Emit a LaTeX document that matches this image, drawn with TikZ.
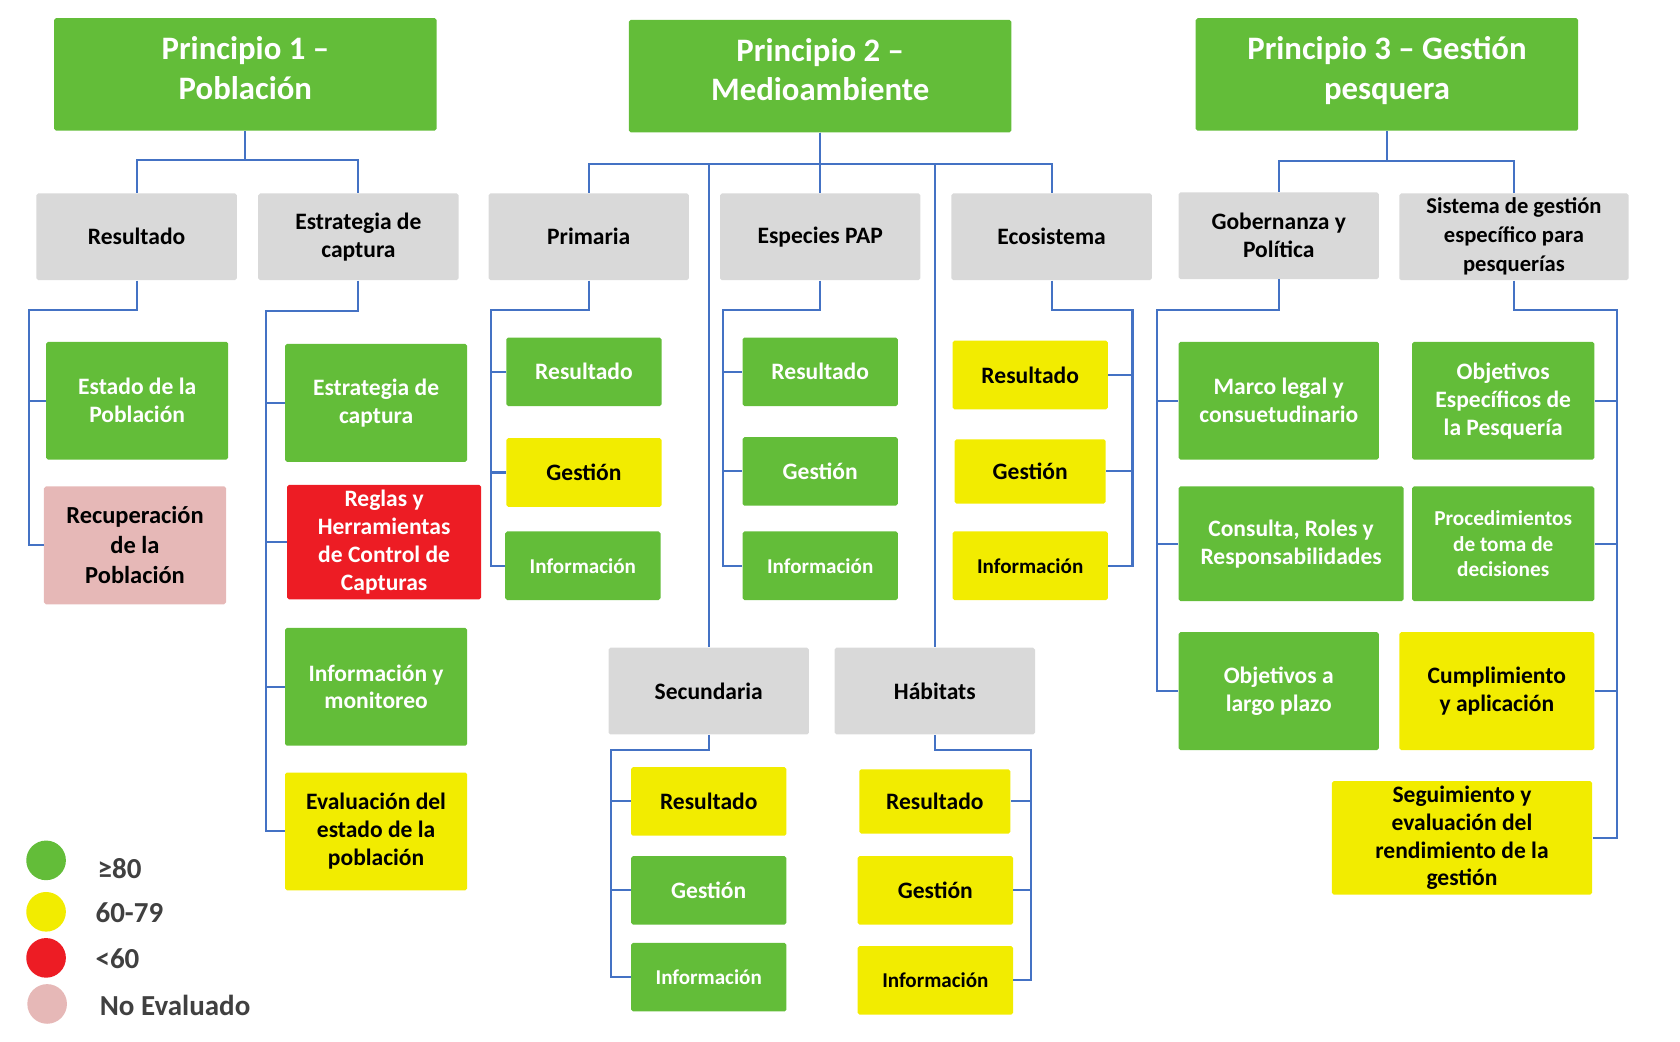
\documentclass[tikz,border=0pt]{standalone}
\usepackage{fontspec}
\setmainfont{Carlito}
\usepackage{tikz}
\usetikzlibrary{positioning}

\definecolor{scgreen}{RGB}{99,189,57}
\definecolor{scyellow}{RGB}{242,236,0}
\definecolor{scred}{RGB}{237,28,36}
\definecolor{scpink}{RGB}{230,184,183}
\definecolor{catgray}{RGB}{217,217,217}
\definecolor{linkblue}{RGB}{68,114,196}
\definecolor{legtext}{RGB}{64,64,64}

\begin{document}
\begin{tikzpicture}[x=0.2mm, y=-0.2mm,
      base/.style={rectangle, rounded corners=1pt, align=center, inner sep=1pt,
                  font=\fontsize{12.5}{14.8}\selectfont\bfseries},
      princ/.style={base, fill=scgreen, text=white, minimum width=71.4mm, minimum height=21mm,
                  font=\fontsize{17.4}{21}\selectfont\bfseries},
      cat/.style={base, fill=catgray, text=black, minimum width=37.4mm, minimum height=16.2mm},
      good/.style={base, fill=scgreen, text=white},
      fair/.style={base, fill=scyellow, text=black},
      poor/.style={base, fill=scred, text=white},
      noeval/.style={base, fill=scpink, text=black, font=\fontsize{13}{16}\selectfont\bfseries},
      big/.style={minimum width=34mm, minimum height=22mm},
      small/.style={minimum width=29mm, minimum height=12.8mm},
      tiny/.style={font=\fontsize{11.2}{13.7}\selectfont\bfseries},
      link/.style={draw=linkblue, line width=1.1pt},
      dot/.style={circle, minimum size=7.4mm, inner sep=0pt},
      leg/.style={anchor=west, text=legtext, font=\fontsize{15.4}{18}\selectfont\bfseries}]

    \useasboundingbox (0,0) rectangle (1568,972);

    % ---- Principles ----
    % (empty last line lifts the title text a little)
    \node[princ] (p1) at (229,69.5) {Principio 1 --\\Población\\[-14pt]\mbox{}};
    \node[princ] (p2) at (765.5,71) {Principio 2 --\\Medioambiente\\[-14pt]\mbox{}};
    \node[princ] (p3) at (1294.5,69.5) {Principio 3 -- Gestión\\pesquera\\[-14pt]\mbox{}};

    % ---- Components ----
    \node[cat] (res) at (127.5,221) {Resultado};
    \node[cat] (est) at (334.5,221) {Estrategia de\\captura};
    \node[cat] (pri) at (549.5,221) {Primaria};
    \node[cat] (pap) at (765.5,221) {Especies PAP};
    \node[cat] (eco) at (981.5,221) {Ecosistema};
    \node[cat] (sec) at (661.5,645) {Secundaria};
    \node[cat] (hab) at (872.5,645) {Hábitats};
    \node[cat] (gob) at (1193.5,220) {Gobernanza y\\Política};
    \node[cat, minimum width=42.8mm, font=\fontsize{12}{15.4}\selectfont\bfseries]
          (sis) at (1413,221) {Sistema de gestión\\específico para\\pesquerías};

    \draw[link] (p1.south) -- ++(0,27) -| (res.north);
    \draw[link] (p1.south) -- ++(0,27) -| (est.north);
    \foreach \c in {pri,pap,eco,sec,hab}
      \draw[link] (p2.south) -- ++(0,29) -| (\c.north);
    \draw[link] (p3.south) -- ++(0,28) -| (gob.north);
    \draw[link] (p3.south) -- ++(0,28) -| (sis.north);

    % ---- P1: Resultado ----
    \node[good, big] (estado) at (128,374) {Estado de la\\Población};
    \node[noeval, big] (recup) at (126,509) {Recuperación\\de la\\Población};
    \coordinate (resbus) at (27,289);
    \draw[link] (res.south) |- (resbus) |- (recup.west);
    \draw[link] (resbus |- estado.west) -- (estado.west);

    % ---- P1: Estrategia de captura ----
    \node[good, big] (estcap) at (351,376) {Estrategia de\\captura};
    \node[poor, minimum width=36.2mm, minimum height=21.4mm] (reglas) at (358.5,506)
          {Reglas y\\Herramientas\\de Control de\\Capturas};
    \node[good, big] (infmon) at (351,641) {Información y\\monitoreo};
    \node[fair, big] (evalu) at (351,776) {Evaluación del\\estado de la\\población};
    \coordinate (estbus) at (248,290);
    \draw[link] (est.south) |- (estbus) |- (evalu.west);
    \foreach \c in {estcap,reglas,infmon}
      \draw[link] (estbus |- \c.west) -- (\c.west);

    % ---- P2: Primaria / Especies PAP / Ecosistema ----
    \node[good, small] (prires) at (545,347) {Resultado};
    \node[fair, small] (priges) at (545,441) {Gestión};
    \node[good, small, tiny] (priinf) at (544,528) {Información};
    \coordinate (pribus) at (458,289);
    \draw[link] (pri.south) |- (pribus) |- (priinf.west);
    \foreach \c in {prires,priges}
      \draw[link] (pribus |- \c.west) -- (\c.west);

    \node[good, small] (papres) at (765.5,347) {Resultado};
    \node[good, small] (papges) at (765.5,440) {Gestión};
    \node[good, small, tiny] (papinf) at (765.5,528) {Información};
    \coordinate (papbus) at (675,289);
    \draw[link] (pap.south) |- (papbus) |- (papinf.west);
    \foreach \c in {papres,papges}
      \draw[link] (papbus |- \c.west) -- (\c.west);

    \node[fair, small] (ecores) at (961.5,350) {Resultado};
    \node[fair, small, minimum width=28.2mm, minimum height=12mm] (ecoges) at (961.5,440) {Gestión};
    \node[fair, small, tiny] (ecoinf) at (961.5,528) {Información};
    \coordinate (ecobus) at (1057,289);
    \draw[link] (eco.south) |- (ecobus) |- (ecoinf.east);
    \foreach \c in {ecores,ecoges}
      \draw[link] (ecobus |- \c.east) -- (\c.east);

    % ---- P2: Secundaria / Habitats ----
    \node[fair, small] (secres) at (661.5,748) {Resultado};
    \node[good, small] (secges) at (661.5,831) {Gestión};
    \node[good, small, tiny] (secinf) at (661.5,912) {Información};
    \coordinate (secbus) at (570,700);
    \draw[link] (sec.south) |- (secbus) |- (secinf.west);
    \foreach \c in {secres,secges}
      \draw[link] (secbus |- \c.west) -- (\c.west);

    \node[fair, small, minimum width=28.2mm, minimum height=12mm] (habres) at (872.5,748) {Resultado};
    \node[fair, small] (habges) at (873,831) {Gestión};
    \node[fair, small, tiny] (habinf) at (873,915) {Información};
    \coordinate (habbus) at (962,700);
    \draw[link] (hab.south) |- (habbus) |- (habinf.east);
    \foreach \c in {habres,habges}
      \draw[link] (habbus |- \c.east) -- (\c.east);

    % ---- P3: Gobernanza y Politica ----
    \node[good, minimum width=37.4mm, minimum height=22mm] (marco) at (1193.5,374)
          {Marco legal y\\consuetudinario};
    \node[good, minimum width=42mm, minimum height=21.4mm] (consul) at (1205,507.5)
          {Consulta, Roles y\\Responsabilidades};
    \node[good, minimum width=37.4mm, minimum height=22mm] (objlp) at (1193.5,645)
          {Objetivos a\\largo plazo};
    \coordinate (gobbus) at (1080,289);
    \draw[link] (gob.south) |- (gobbus) |- (objlp.west);
    \foreach \c in {marco,consul}
      \draw[link] (gobbus |- \c.west) -- (\c.west);

    % ---- P3: Sistema de gestion ----
    \node[good, big] (objesp) at (1403,374) {Objetivos\\Específicos de\\la Pesquería};
    \node[good, big, minimum height=21.4mm, font=\fontsize{11.3}{13.7}\selectfont\bfseries]
          (proced) at (1403,507.5) {Procedimientos\\de toma de\\decisiones};
    \node[fair, minimum width=36.4mm, minimum height=22mm] (cumpl) at (1397,645)
          {Cumplimiento\\y aplicación};
    \node[fair, minimum width=48.6mm, minimum height=21.2mm] (segui) at (1364.5,782)
          {Seguimiento y\\evaluación del\\rendimiento de la\\gestión};
    \coordinate (sisbus) at (1509,289);
    \draw[link] (sis.south) |- (sisbus) |- (segui.east);
    \foreach \c in {objesp,proced,cumpl}
      \draw[link] (sisbus |- \c.east) -- (\c.east);

    % ---- Legend ----
    \node[dot, fill=scgreen] (lg1) at (43,803) {};
    \node[dot, fill=scyellow] (lg2) at (43,851) {};
    \node[dot, fill=scred] (lg3) at (43,894) {};
    \node[dot, fill=scpink] (lg4) at (44,937) {};
    \node[leg] at (85,811) {≥80};
    \node[leg] at (83,852) {60-79};
    \node[leg] at (83,895) {<60};
    \node[leg] at (87,938) {No Evaluado};

\end{tikzpicture}
\end{document}
